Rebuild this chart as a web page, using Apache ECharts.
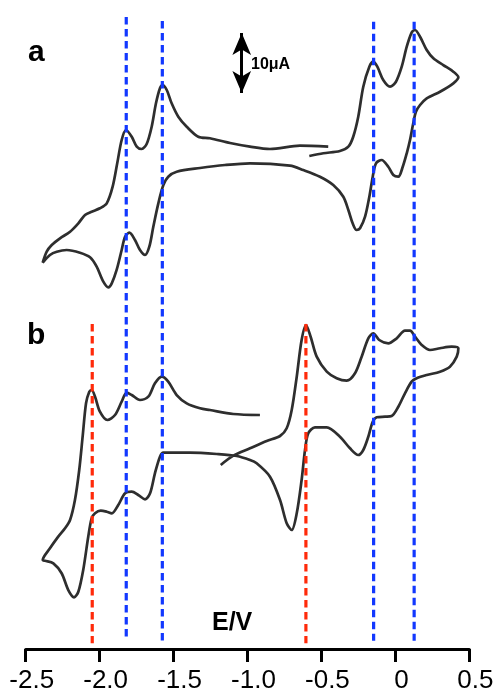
<!DOCTYPE html>
<html>
<head>
<meta charset="utf-8">
<script src="https://cdn.jsdelivr.net/npm/echarts@6/dist/echarts.min.js"></script>
<style>html,body{margin:0;padding:0;background:#fff;}#c{width:498px;height:699px;}</style>
</head>
<body>
<div id="c"></div>
<script>
// Potential axis tick labels (V)
const tickLabels = ['-2.5','-2.0','-1.5','-1.0','-0.5','0','0.5'];

// Curve a: potential (V) and current (uA, offset for stacking)
const curveA_E = [-0.582,-0.487,-0.375,-0.318,-0.285,-0.251,-0.217,-0.176,-0.149,-0.122,-0.082,-0.036,0.004,0.043,0.077,0.110,0.133,0.167,0.212,0.257,0.324,0.392,0.426,0.392,0.302,0.212,0.167,0.139,0.121,0.099,0.077,0.050,0.020,-0.014,-0.048,-0.093,-0.131,-0.153,-0.176,-0.205,-0.239,-0.262,-0.289,-0.318,-0.352,-0.420,-0.510,-0.623,-0.713,-0.983,-1.152,-1.321,-1.479,-1.536,-1.569,-1.603,-1.637,-1.664,-1.693,-1.727,-1.761,-1.799,-1.828,-1.851,-1.885,-1.918,-1.941,-1.975,-2.020,-2.065,-2.133,-2.223,-2.290,-2.336,-2.385,-2.358,-2.324,-2.268,-2.200,-2.144,-2.099,-2.054,-1.998,-1.952,-1.912,-1.881,-1.851,-1.822,-1.783,-1.749,-1.716,-1.682,-1.648,-1.619,-1.592,-1.574,-1.546,-1.513,-1.468,-1.411,-1.333,-1.254,-1.118,-0.983,-0.848,-0.645,-0.454];
const curveA_I = [82.17,82.62,83.0,83.72,85.38,88.72,93.72,97.05,97.88,97.05,94.83,93.72,94.55,97.05,100.38,102.72,103.17,102.05,99.83,98.45,97.33,96.22,95.28,94.28,92.88,91.78,90.67,89.55,87.62,84.83,82.62,80.38,78.72,79.0,80.38,81.5,80.95,78.72,75.38,72.05,70.12,69.83,70.95,73.17,75.38,77.33,78.72,79.83,80.55,80.95,80.67,80.17,79.55,78.72,77.33,74.28,70.38,67.05,65.67,66.5,68.17,69.38,68.72,66.5,63.17,60.95,60.28,61.22,63.72,65.28,66.05,66.5,66.22,65.67,64.38,66.22,67.33,68.45,69.55,70.95,72.33,72.88,73.45,74.28,77.05,80.95,84.83,86.5,85.38,83.72,83.33,84.17,87.05,90.95,93.45,94.0,93.17,90.95,88.72,87.05,85.38,85.12,84.33,83.72,83.33,83.88,83.72];

// Curve b
const curveB_E = [-1.181,-1.096,-0.983,-0.870,-0.780,-0.735,-0.701,-0.667,-0.634,-0.604,-0.573,-0.532,-0.464,-0.397,-0.329,-0.273,-0.228,-0.183,-0.149,-0.109,-0.048,0.009,0.065,0.099,0.133,0.178,0.234,0.302,0.381,0.426,0.415,0.369,0.302,0.212,0.144,0.110,0.065,0.020,-0.025,-0.070,-0.126,-0.153,-0.183,-0.217,-0.251,-0.307,-0.375,-0.464,-0.544,-0.589,-0.611,-0.634,-0.667,-0.701,-0.735,-0.780,-0.848,-0.938,-0.983,-1.073,-1.208,-1.389,-1.569,-1.592,-1.626,-1.659,-1.693,-1.739,-1.783,-1.828,-1.874,-1.918,-1.952,-1.993,-2.031,-2.054,-2.077,-2.111,-2.144,-2.173,-2.212,-2.257,-2.313,-2.370,-2.385,-2.336,-2.280,-2.234,-2.200,-2.167,-2.138,-2.115,-2.092,-2.070,-2.054,-2.031,-1.998,-1.948,-1.896,-1.851,-1.817,-1.783,-1.727,-1.671,-1.626,-1.580,-1.536,-1.479,-1.411,-1.321,-1.254,-1.096,-0.916];
const curveB_I = [30.67,32.22,33.45,34.67,35.5,36.78,39.83,45.38,51.5,54.0,52.05,48.72,46.22,45.12,44.72,45.95,48.72,51.78,52.62,51.5,50.95,51.78,53.05,53.05,52.05,50.67,49.83,50.12,50.38,50.12,48.72,47.05,46.22,45.67,45.12,44.55,42.62,40.38,38.83,38.72,38.62,37.88,35.38,33.17,32.33,33.45,35.38,36.95,36.95,35.95,33.17,28.17,22.62,19.83,20.95,24.83,28.72,30.95,31.5,32.17,32.5,32.72,32.72,32.05,29.28,25.95,24.95,25.67,26.22,25.95,24.0,22.62,22.88,23.05,22.62,21.78,18.72,13.17,9.55,8.62,9.83,12.62,14.28,14.72,14.83,16.78,18.72,20.12,21.5,24.83,29.83,35.38,40.95,42.88,43.17,42.05,39.55,38.17,39.0,41.22,42.72,42.33,41.5,42.05,44.28,45.38,44.55,42.33,40.95,40.12,39.83,39.17,39.0];

// Vertical guide lines: potential, top and bottom current, kind
const guideE      = [-1.82, -1.576, -0.147, 0.127, -2.05, -0.605];
const guideTop    = [105.33, 104.67, 104.55, 104.55, 54.17, 54.17];
const guideBottom = [1.95, 1.38, 1.38, 1.38, 0.95, 0.95];
const guideKind   = ['blue','blue','blue','blue','red','red'];

// Scale bar: 10 uA
const scaleE = -1.039;
const scaleTop = 102.67;
const scaleSize = 10;

const colors = {blue: '#1238ff', red: '#ff2a0a'};
const zip = (xs, ys) => xs.map((x, i) => [x, ys[i]]);

const series = [];
[[curveA_E, curveA_I], [curveB_E, curveB_I]].forEach(([e, i]) => {
  series.push({
    type: 'line', data: zip(e, i), smooth: 0.3, showSymbol: false, silent: true,
    lineStyle: {color: '#2e2e2e', width: 2.7}, z: 2
  });
});
guideE.forEach((e, k) => {
  series.push({
    type: 'line', data: [[e, guideTop[k]], [e, guideBottom[k]]], showSymbol: false, silent: true,
    lineStyle: {color: colors[guideKind[k]], width: 3.2, type: [7.5, 4.5]}, z: 3
  });
});
series.push({
  type: 'line', data: [], silent: true,
  markLine: {
    silent: true, symbol: ['arrow', 'arrow'], symbolSize: [14, 22],
    label: {show: false},
    lineStyle: {color: '#000', width: 3, type: 'solid'},
    data: [[{coord: [scaleE, scaleTop]}, {coord: [scaleE, scaleTop - scaleSize]}]]
  }
});

const chart = echarts.init(document.getElementById('c'), null, {renderer: 'canvas'});
chart.setOption({
  animation: false,
  backgroundColor: '#fff',
  grid: {left: 25.7, right: 28.7, top: 1, bottom: 50},
  xAxis: {
    type: 'value', min: -2.5, max: 0.5, interval: 0.5,
    axisLine: {show: true, onZero: false, lineStyle: {color: '#000', width: 3}},
    axisTick: {show: true, length: 13, lineStyle: {color: '#000', width: 3}},
    splitLine: {show: false},
    axisLabel: {
      margin: 19, fontSize: 26, color: '#000', fontFamily: 'Liberation Sans',
      padding: [0, 0, 0, 12],
      formatter: v => tickLabels[Math.round((v + 2.5) / 0.5)]
    }
  },
  yAxis: {type: 'value', min: 0, max: 108, show: false},
  series: series,
  graphic: [
    {type: 'text', left: 28, top: 38, style: {text: 'a', fontSize: 30, fontWeight: 'bold', fontFamily: 'Liberation Sans', fill: '#000'}},
    {type: 'text', left: 27, top: 321, style: {text: 'b', fontSize: 30, fontWeight: 'bold', fontFamily: 'Liberation Sans', fill: '#000'}},
    {type: 'text', left: 251, top: 57, style: {text: '10μA', fontSize: 16, fontWeight: 'bold', fontFamily: 'Liberation Sans', fill: '#000'}},
    {type: 'text', left: 212, top: 611, style: {text: 'E/V', fontSize: 25, fontWeight: 'bold', fontFamily: 'Liberation Sans', fill: '#000'}}
  ]
});
</script>
</body>
</html>
